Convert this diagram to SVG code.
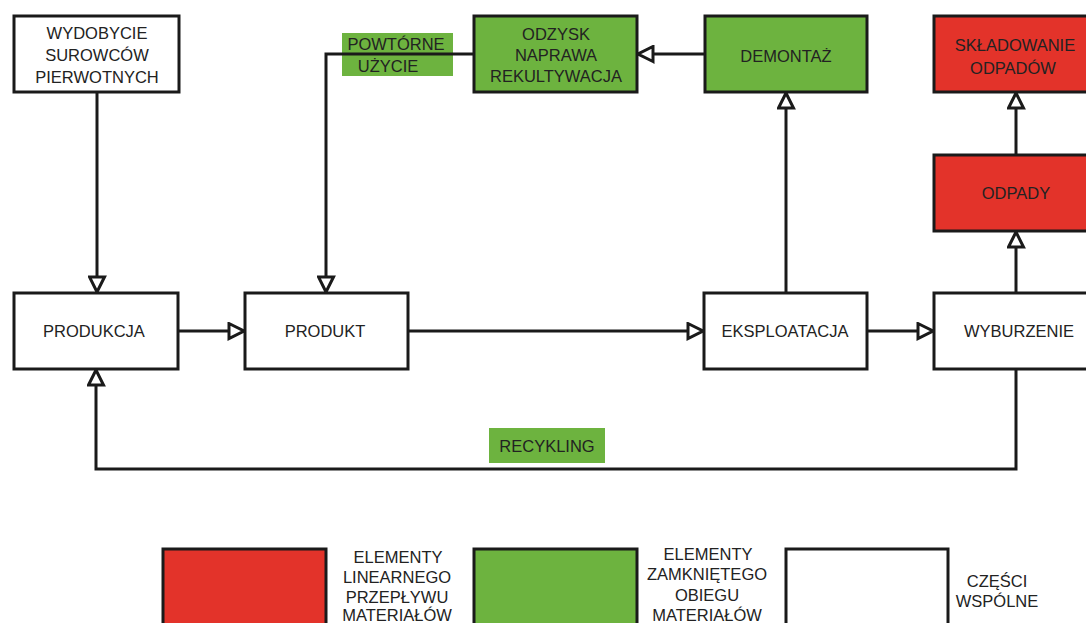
<svg xmlns="http://www.w3.org/2000/svg" width="1086" height="623" viewBox="0 0 1086 623">
<defs>
<style>
.box{stroke:#1a1a1a;stroke-width:3;}
.w{fill:#ffffff;}
.g{fill:#6db33f;}
.r{fill:#e3332a;}
.t{font-family:"Liberation Sans",Arial,sans-serif;font-size:16.5px;fill:#222;text-anchor:middle;}
.lt{font-family:"Liberation Sans",Arial,sans-serif;font-size:16.5px;fill:#222;text-anchor:middle;}
.lbl{fill:#6db33f;stroke:none;}
.c{fill:none;stroke:#1a1a1a;stroke-width:3;}
</style>
<marker id="arr" viewBox="-2 -2 19 19" refX="15" refY="7.5" markerWidth="19" markerHeight="19" markerUnits="userSpaceOnUse" orient="auto">
<path d="M0,0 L15,7.5 L0,15 Z" fill="#fff" stroke="#1a1a1a" stroke-width="3" stroke-linejoin="miter"/>
</marker>
</defs>
<rect width="1086" height="623" fill="#fff"/>

<g id="labels">
<g id="lbl-powtorne">
<rect class="lbl" x="342" y="33" width="111" height="43"/>
<text class="t" x="396" y="50">POWTÓRNE</text>
<text class="t" x="388" y="72">UŻYCIE</text>
</g>
<g id="lbl-recykling">
<rect class="lbl" x="489" y="428" width="116" height="35"/>
<text class="t" x="547" y="452">RECYKLING</text>
</g>
</g>

<g id="connectors">
<path class="c" d="M97,92 V292" marker-end="url(#arr)"/>
<path class="c" d="M178,331 H244" marker-end="url(#arr)"/>
<path class="c" d="M408,331 H703" marker-end="url(#arr)"/>
<path class="c" d="M867,331 H933" marker-end="url(#arr)"/>
<path class="c" d="M786,293 V93" marker-end="url(#arr)"/>
<path class="c" d="M705,54 H638" marker-end="url(#arr)"/>
<path class="c" d="M474,54 H326 V292" marker-end="url(#arr)"/>
<path class="c" d="M1016,293 V232" marker-end="url(#arr)"/>
<path class="c" d="M1016,155 V93" marker-end="url(#arr)"/>
<path class="c" d="M1016,369 V469 H96 V370" marker-end="url(#arr)"/>
</g>

<g id="n-wydobycie">
<rect class="box w" x="14" y="16" width="165" height="76"/>
<text class="t" x="97" y="39">WYDOBYCIE</text>
<text class="t" x="97" y="61">SUROWCÓW</text>
<text class="t" x="97" y="83">PIERWOTNYCH</text>
</g>
<g id="n-odzysk">
<rect class="box g" x="474" y="16" width="163" height="76"/>
<text class="t" x="556" y="40">ODZYSK</text>
<text class="t" x="556" y="61">NAPRAWA</text>
<text class="t" x="556" y="82">REKULTYWACJA</text>
</g>
<g id="n-demontaz">
<rect class="box g" x="705" y="16" width="162" height="76"/>
<text class="t" x="786" y="62">DEMONTAŻ</text>
</g>
<g id="n-skladowanie">
<rect class="box r" x="934" y="16" width="165" height="76"/>
<text class="t" x="1015" y="51">SKŁADOWANIE</text>
<text class="t" x="1013" y="74">ODPADÓW</text>
</g>
<g id="n-odpady">
<rect class="box r" x="934" y="155" width="165" height="76"/>
<text class="t" x="1016" y="199">ODPADY</text>
</g>
<g id="n-produkcja">
<rect class="box w" x="14" y="293" width="164" height="76"/>
<text class="t" x="94" y="337">PRODUKCJA</text>
</g>
<g id="n-produkt">
<rect class="box w" x="245" y="293" width="163" height="76"/>
<text class="t" x="325" y="337">PRODUKT</text>
</g>
<g id="n-eksploatacja">
<rect class="box w" x="704" y="293" width="163" height="76"/>
<text class="t" x="785" y="337">EKSPLOATACJA</text>
</g>
<g id="n-wyburzenie">
<rect class="box w" x="934" y="293" width="165" height="76"/>
<text class="t" x="1019" y="337">WYBURZENIE</text>
</g>

<g id="legend">
<rect class="box r" x="163" y="549" width="163" height="80"/>
<text class="lt" x="398" y="563">ELEMENTY</text>
<text class="lt" x="397" y="583">LINEARNEGO</text>
<text class="lt" x="397" y="603">PRZEPŁYWU</text>
<text class="lt" x="397" y="621">MATERIAŁÓW</text>
<rect class="box g" x="474" y="549" width="163" height="80"/>
<text class="lt" x="708" y="560">ELEMENTY</text>
<text class="lt" x="707" y="580">ZAMKNIĘTEGO</text>
<text class="lt" x="707" y="601">OBIEGU</text>
<text class="lt" x="707" y="621">MATERIAŁÓW</text>
<rect class="box w" x="786" y="549" width="162" height="80"/>
<text class="lt" x="997" y="587">CZĘŚCI</text>
<text class="lt" x="997" y="607">WSPÓLNE</text>
</g>
</svg>
